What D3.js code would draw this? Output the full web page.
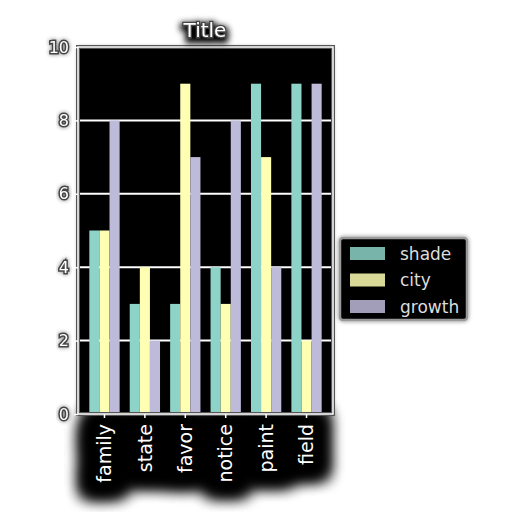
<!DOCTYPE html>
<html>
<head>
<meta charset="utf-8">
<script src="https://cdn.jsdelivr.net/npm/d3@7"></script>
<style>
body { margin: 0; background: #fff; }
text { font-family: "DejaVu Sans", sans-serif; }
</style>
</head>
<body>
<script>
(function(){

// chart data
var categories = ["family", "state", "favor", "notice", "paint", "field"];
var seriesNames = ["shade", "city", "growth"];
var shade = [5, 3, 3, 4, 9, 9];
var city = [5, 4, 9, 3, 7, 2];
var growth = [8, 2, 7, 8, 4, 9];
var yTicks = [0, 2, 4, 6, 8, 10];
var colors = ["#8dd3c7", "#ffffb3", "#bebada"];

var width = 512, height = 512;
var left = 78, right = 333, top = 47, bottom = 414;

var svg = d3.select("body").append("svg")
    .attr("width", width)
    .attr("height", height);

var defs = svg.append("defs");

// soft dark halo for title
var halo = defs.append("filter").attr("id", "halo")
    .attr("x", "-50%").attr("y", "-50%").attr("width", "200%").attr("height", "200%");
halo.append("feMorphology").attr("in", "SourceAlpha").attr("operator", "dilate").attr("radius", 1.5).attr("result", "d");
halo.append("feOffset").attr("in", "d").attr("dy", 3).attr("result", "o");
halo.append("feGaussianBlur").attr("in", "o").attr("stdDeviation", 3).attr("result", "b");
var hm = halo.append("feMerge");
hm.append("feMergeNode").attr("in", "b");
hm.append("feMergeNode").attr("in", "SourceGraphic");

// big blurry blob behind the x labels
var blob = defs.append("filter").attr("id", "blob")
    .attr("filterUnits", "userSpaceOnUse")
    .attr("x", 30).attr("y", 400).attr("width", 340).attr("height", 112);
blob.append("feMorphology").attr("in", "SourceAlpha").attr("operator", "dilate").attr("radius", 14).attr("result", "d");
blob.append("feGaussianBlur").attr("in", "d").attr("stdDeviation", 8).attr("result", "b");
var bm = blob.append("feMerge");
bm.append("feMergeNode").attr("in", "b");
bm.append("feMergeNode").attr("in", "b");
bm.append("feMergeNode").attr("in", "b");

// light glow for frame / ticks
var glow = defs.append("filter").attr("id", "glow")
    .attr("x", "-20%").attr("y", "-20%").attr("width", "140%").attr("height", "140%");
glow.append("feGaussianBlur").attr("in", "SourceAlpha").attr("stdDeviation", 2).attr("result", "b");
glow.append("feComponentTransfer").attr("in", "b").attr("result", "g")
    .append("feFuncA").attr("type", "linear").attr("slope", 0.5);
var gm = glow.append("feMerge");
gm.append("feMergeNode").attr("in", "g");
gm.append("feMergeNode").attr("in", "SourceGraphic");

// scales
var x = d3.scaleBand()
    .domain(categories)
    .range([left, right])
    .paddingInner(0.25)
    .paddingOuter(0.28);

var xSub = d3.scaleBand()
    .domain(seriesNames)
    .range([0, x.bandwidth()]);

var y = d3.scaleLinear()
    .domain([0, 10])
    .range([bottom, top]);

// blob behind x labels (drawn first, under everything)
var blobG = svg.append("g").attr("filter", "url(#blob)");
blobG.selectAll("text")
    .data(categories)
    .enter().append("text")
    .attr("transform", function(d){ return "translate(" + (x(d) + x.bandwidth() / 2) + "," + (bottom + 10) + ") rotate(-90)"; })
    .attr("dy", "0.35em")
    .attr("text-anchor", "end")
    .attr("font-size", 19)
    .attr("fill", "#000")
    .text(function(d){ return d; });

// plot background
svg.append("rect")
    .attr("x", left).attr("y", top)
    .attr("width", right - left).attr("height", bottom - top)
    .attr("fill", "#000")
    .attr("filter", "url(#glow)");

// grid lines
svg.append("g").selectAll("line")
    .data(yTicks)
    .enter().append("line")
    .attr("x1", left).attr("x2", right)
    .attr("y1", function(d){ return y(d); })
    .attr("y2", function(d){ return y(d); })
    .attr("stroke", "#fff")
    .attr("stroke-width", 2);

// bars
var seriesData = [shade, city, growth];
var rows = [];
categories.forEach(function(c, i){
    seriesNames.forEach(function(s, j){
        rows.push({cat: c, series: s, value: seriesData[j][i], color: colors[j]});
    });
});

svg.append("g").selectAll("rect")
    .data(rows)
    .enter().append("rect")
    .attr("x", function(d){ return x(d.cat) + xSub(d.series); })
    .attr("y", function(d){ return y(d.value); })
    .attr("width", xSub.bandwidth())
    .attr("height", function(d){ return bottom - y(d.value); })
    .attr("fill", function(d){ return d.color; });

// frame: dark outline under a white spine
svg.append("rect")
    .attr("x", left).attr("y", top)
    .attr("width", right - left).attr("height", bottom - top)
    .attr("fill", "none")
    .attr("stroke", "#555")
    .attr("stroke-width", 4);
svg.append("rect")
    .attr("x", left).attr("y", top)
    .attr("width", right - left).attr("height", bottom - top)
    .attr("fill", "none")
    .attr("stroke", "#fff")
    .attr("stroke-width", 1.5);

// y axis
var yAxis = svg.append("g")
    .attr("transform", "translate(" + left + ",0)")
    .call(d3.axisLeft(y).tickValues(yTicks).tickSize(4).tickPadding(5));
yAxis.select(".domain").remove();
yAxis.selectAll(".tick line")
    .attr("stroke", "#fff").attr("stroke-width", 1.5);
yAxis.selectAll(".tick text")
    .attr("font-size", 16)
    .attr("fill", "#fff")
    .attr("stroke", "#444")
    .attr("stroke-width", 3)
    .attr("paint-order", "stroke")
    .attr("filter", "url(#glow)");

// x axis
var xAxis = svg.append("g")
    .attr("transform", "translate(0," + bottom + ")")
    .call(d3.axisBottom(x).tickSize(4).tickPadding(6));
xAxis.select(".domain").remove();
xAxis.selectAll(".tick line")
    .attr("stroke", "#fff").attr("stroke-width", 1.5);
xAxis.selectAll(".tick text")
    .attr("font-size", 19)
    .attr("fill", "#fff")
    .attr("transform", "rotate(-90)")
    .attr("x", -10)
    .attr("y", 0)
    .attr("dy", "0.35em")
    .style("text-anchor", "end");

// title
svg.append("text")
    .attr("x", 205)
    .attr("y", 37)
    .attr("text-anchor", "middle")
    .attr("font-size", 20)
    .attr("fill", "#fff")
    .attr("stroke", "#444")
    .attr("stroke-width", 2.5)
    .attr("paint-order", "stroke")
    .attr("filter", "url(#halo)")
    .text("Title");

// legend
var legend = svg.append("g").attr("transform", "translate(340,238)");
legend.append("rect")
    .attr("width", 127).attr("height", 82)
    .attr("rx", 3)
    .attr("fill", "#000")
    .attr("stroke", "#999")
    .attr("stroke-width", 2.5)
    .attr("filter", "url(#glow)");

var items = legend.selectAll(".item")
    .data(seriesNames)
    .enter().append("g")
    .attr("class", "item")
    .attr("transform", function(d, i){ return "translate(10," + (9 + i * 26.5) + ")"; });
items.append("rect")
    .attr("width", 35).attr("height", 13)
    .attr("fill", function(d, i){ return colors[i]; })
    .attr("opacity", 0.85);
items.append("text")
    .attr("x", 50).attr("y", 7)
    .attr("dy", "0.35em")
    .attr("font-size", 17)
    .attr("fill", "#ddd")
    .text(function(d){ return d; });

})();
</script>
</body>
</html>
